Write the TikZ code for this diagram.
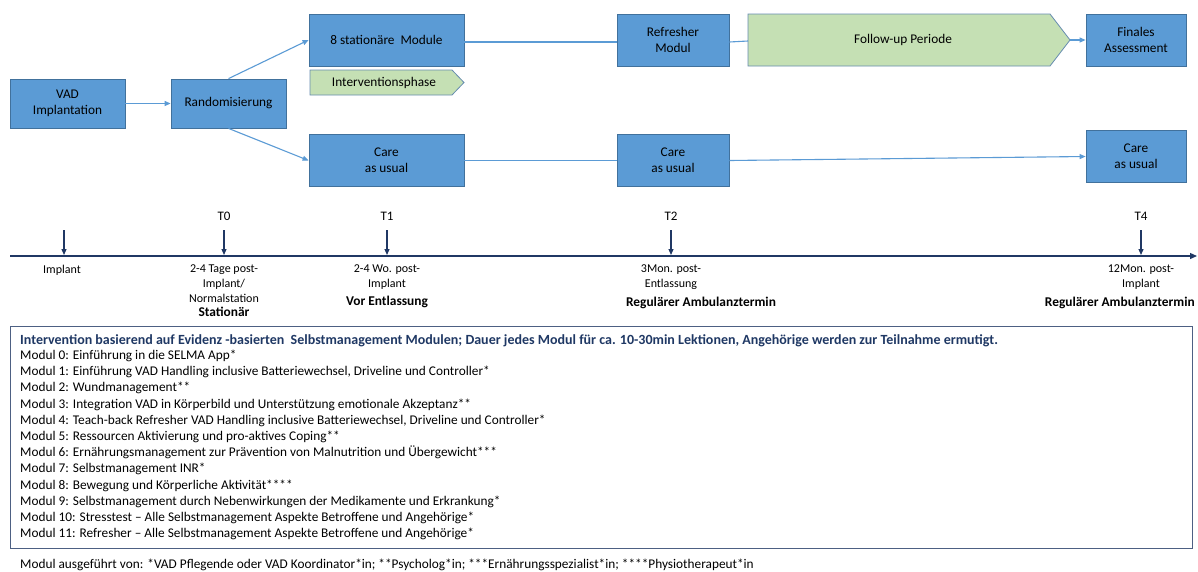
\documentclass[tikz,border=0pt]{standalone}
\usepackage{fontspec}
\setmainfont{Carlito}
\usetikzlibrary{arrows.meta}
\definecolor{boxblue}{HTML}{5B9BD5}
\definecolor{boxedge}{HTML}{41719C}
\definecolor{lgreen}{HTML}{C5E0B4}
\definecolor{navy}{HTML}{203864}
\definecolor{titlenavy}{HTML}{1F3864}
\begin{document}
\begin{tikzpicture}[x=1pt,y=-1pt,
  bluebox/.style={draw=boxedge, fill=boxblue, line width=0.8pt, align=center, inner sep=0pt,
    font=\fontsize{13.3}{16}\selectfont},
  greenshape/.style={draw=boxedge!80, fill=lgreen, line width=0.8pt},
  flow/.style={draw=boxblue, line width=1.1pt},
  flowarrow/.style={flow, -{Triangle[length=6pt,width=5pt]}},
  tick/.style={draw=navy, line width=1.2pt, -{Triangle[length=6pt,width=5pt]}},
  small/.style={font=\fontsize{12}{14}\selectfont, inner sep=0pt},
  tlab/.style={font=\fontsize{13}{15}\selectfont, inner sep=0pt},
  boldlab/.style={font=\fontsize{13.4}{15}\selectfont\bfseries, inner sep=0pt},
  modline/.style={anchor=base west, inner sep=0pt, font=\fontsize{13.3}{15}\selectfont},
]
\useasboundingbox (0,0) rectangle (1198,571);
\fill[white] (0,0) rectangle (1198,571);

% boxes
\node[bluebox, minimum width=115pt, minimum height=49pt] (vad) at (67.5,103.5) {VAD\\Implantation};
\node[bluebox, minimum width=115pt, minimum height=49pt] (rand) at (228.5,103.5) {Randomisierung};
\node[bluebox, minimum width=155pt, minimum height=52pt] (stat) at (386.5,40) {8 stationäre\ \ Module};
\node[bluebox, minimum width=155pt, minimum height=52pt] (cau1) at (386.5,160.5) {Care\\as usual};
\node[bluebox, minimum width=112pt, minimum height=52pt] (refr) at (673,40) {Refresher\\Modul};
\node[bluebox, minimum width=112pt, minimum height=52pt] (cau2) at (673,160.5) {Care\\as usual};
\node[bluebox, minimum width=100pt, minimum height=52pt] (fin) at (1136,40) {Finales\\Assessment};
\node[bluebox, minimum width=100pt, minimum height=52pt] (cau3) at (1136,156.5) {Care\\as usual};

% green arrow shapes
\draw[greenshape] (310,70) -- (452,70) -- (464,82.5) -- (452,95) -- (310,95) -- cycle;
\node[font=\fontsize{13.3}{15}\selectfont] (intv) at (384,82.5) {Interventionsphase};
\draw[greenshape] (748,14) -- (1050,14) -- (1070,40) -- (1050,66) -- (748,66) -- cycle;
\coordinate (fustart) at (748,41);
\coordinate (futip) at (1070,40);
\node[font=\fontsize{13.3}{15}\selectfont] (fu) at (903,40) {Follow-up Periode};

% connectors
\draw[flowarrow] (vad.east) -- (rand.west);
\draw[flowarrow] (rand.north) -- (stat.west);
\draw[flowarrow] (rand.south) -- (cau1.west);
\draw[flow] (stat.east |- 0,42) -- (refr.west |- 0,42);
\draw[flow] (refr.east |- 0,42) -- (fustart);
\draw[flowarrow] (futip) -- (fin.west);
\draw[flow] (cau1.east) -- (cau2.west);
\draw[flowarrow] (cau2.east) -- (cau3.west);

% timeline
\coordinate (tlstart) at (10,256);
\coordinate (tlend) at (1197,256);
\draw[draw=navy, line width=1.2pt, -{Triangle[length=7pt,width=6pt]}] (tlstart) -- (tlend);
\foreach \n/\x in {a/64,b/224,c/387,d/671,e/1141}{
  \coordinate (top\n) at (\x,230);
  \coordinate (bot\n) at (\x,255);
  \draw[tick] (top\n) -- (bot\n);
}
\node[tlab] (t0) at (224,216) {T0};
\node[tlab] (t1) at (387,216) {T1};
\node[tlab] (t2) at (671,216) {T2};
\node[tlab] (t4) at (1141,216) {T4};

\node[small] (l0) at (62,270) {Implant};
\node[small] (l1a) at (224,270) {2-4 Tage post-};
\node[small] (l1b) at (224,284) {Implant/};
\node[small] (l1c) at (224,298) {Normalstation};
\node[boldlab] (l1d) at (224,311.5) {Stationär};
\node[small] (l2a) at (387,270) {2-4 Wo. post-};
\node[small] (l2b) at (387,284) {Implant};
\node[boldlab] (l2c) at (387,302) {Vor Entlassung};
\node[small] (l3a) at (671,270) {3Mon. post-};
\node[small] (l3b) at (671,284) {Entlassung};
\node[boldlab] (l3c) at (701,303) {Regulärer Ambulanztermin};
\node[small] (l4a) at (1141,270) {12Mon. post-};
\node[small] (l4b) at (1141,284) {Implant};
\node[boldlab, anchor=east] (l4c) at (1195,303) {Regulärer Ambulanztermin};

% module box
\draw[draw=navy!80, line width=0.9pt] (10,326) rectangle (1192,548);
\node[modline, text=titlenavy, font=\fontsize{14}{15}\selectfont\bfseries] (title) at (20,344.5) {Intervention basierend auf Evidenz -basierten\ \ Selbstmanagement Modulen; Dauer jedes Modul für ca. 10-30min Lektionen, Angehörige werden zur Teilnahme ermutigt.};
\node[modline] (m0) at (20,359.5) {Modul 0: Einführung in die SELMA App*};
\node[modline] (m1) at (20,375.7) {Modul 1: Einführung VAD Handling inclusive Batteriewechsel, Driveline und Controller*};
\node[modline] (m2) at (20,391.9) {Modul 2: Wundmanagement**};
\node[modline] (m3) at (20,408.1) {Modul 3: Integration VAD in Körperbild und Unterstützung emotionale Akzeptanz**};
\node[modline] (m4) at (20,424.3) {Modul 4: Teach-back Refresher VAD Handling inclusive Batteriewechsel, Driveline und Controller*};
\node[modline] (m5) at (20,440.5) {Modul 5: Ressourcen Aktivierung und pro-aktives Coping**};
\node[modline] (m6) at (20,456.7) {Modul 6: Ernährungsmanagement zur Prävention von Malnutrition und Übergewicht***};
\node[modline] (m7) at (20,472.9) {Modul 7: Selbstmanagement INR*};
\node[modline] (m8) at (20,489.1) {Modul 8: Bewegung und Körperliche Aktivität****};
\node[modline] (m9) at (20,505.3) {Modul 9: Selbstmanagement durch Nebenwirkungen der Medikamente und Erkrankung*};
\node[modline] (m10) at (20,521.5) {Modul 10: Stresstest – Alle Selbstmanagement Aspekte Betroffene und Angehörige*};
\node[modline] (m11) at (20,537.7) {Modul 11: Refresher – Alle Selbstmanagement Aspekte Betroffene und Angehörige*};

\node[modline] (foot) at (20,568) {Modul ausgeführt von: *VAD Pflegende oder VAD Koordinator*in; **Psycholog*in; ***Ernährungsspezialist*in; ****Physiotherapeut*in};
\end{tikzpicture}
\end{document}
